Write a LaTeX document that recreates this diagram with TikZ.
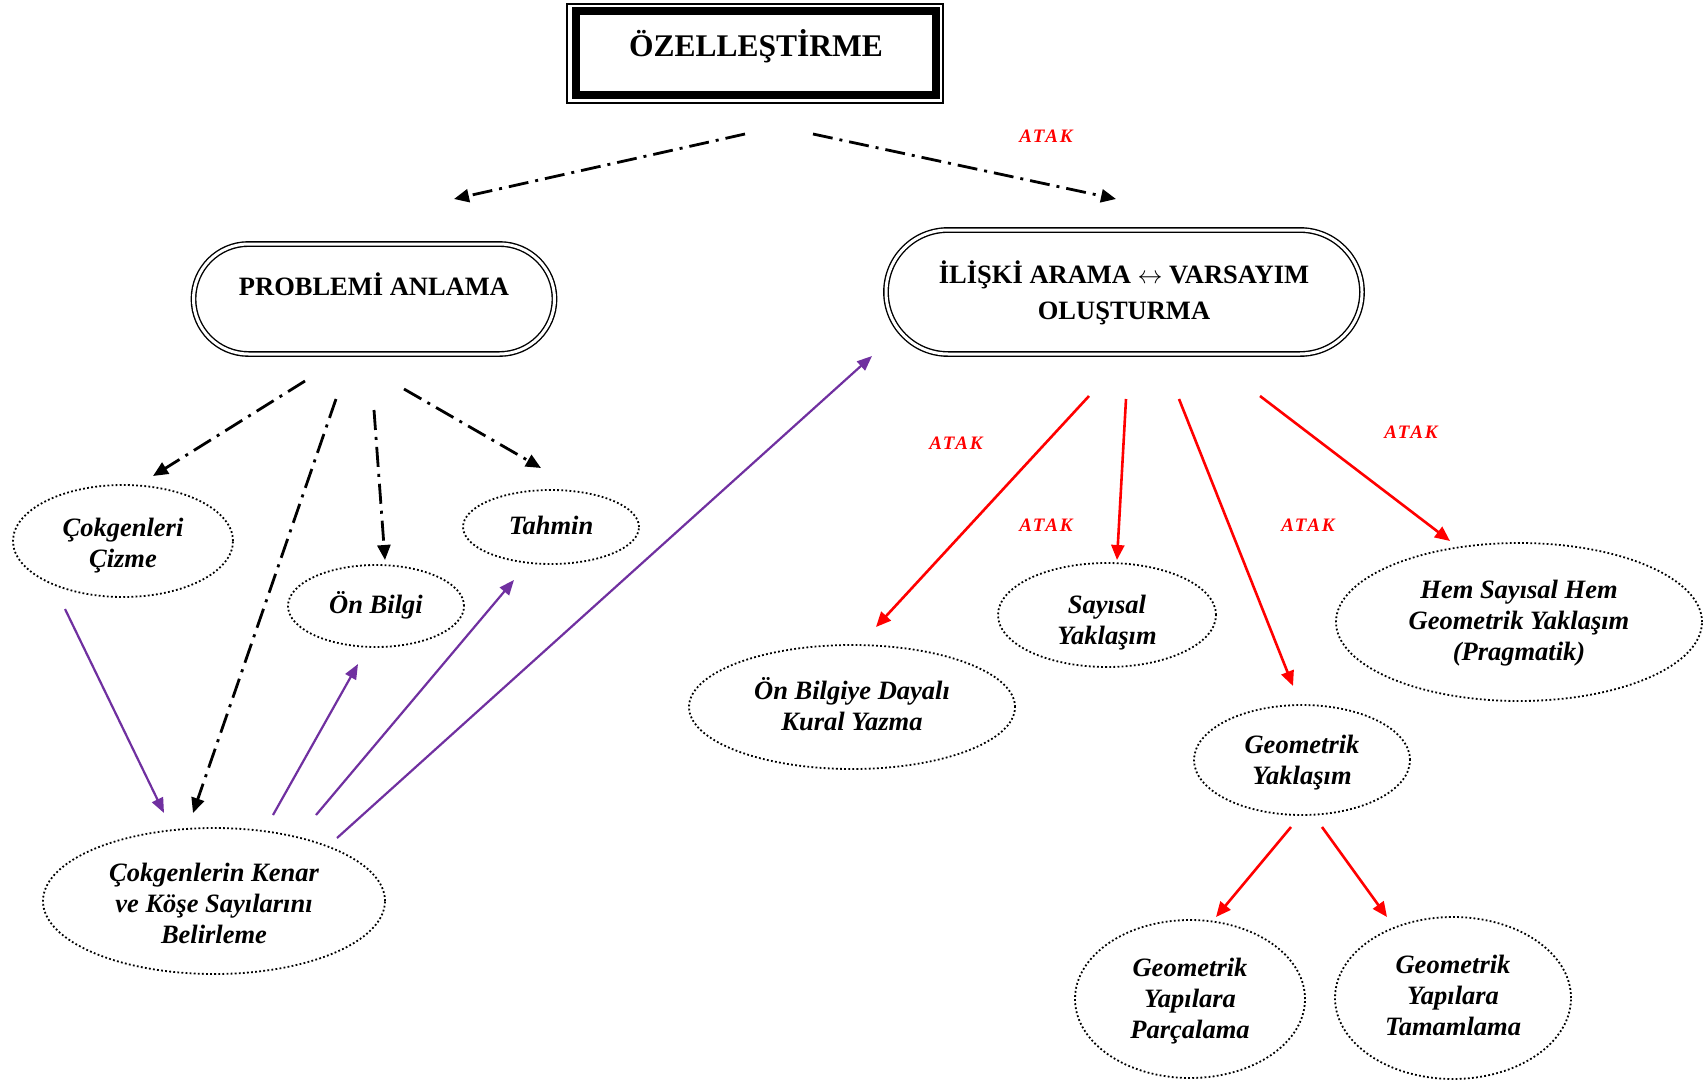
\documentclass[tikz,border=0pt]{standalone}
\usepackage{fontspec}
\setmainfont{Liberation Serif}
\newfontfamily\atakfont[LetterSpace=10]{Liberation Serif}
\usetikzlibrary{arrows.meta,shapes.geometric,shapes.misc}

\definecolor{linkpurple}{HTML}{7030A0}
\definecolor{atakred}{HTML}{FF0000}

\begin{document}
\begin{tikzpicture}[x=1pt,y=-1pt,
  every node/.style={inner sep=0pt, outer sep=0pt},
  idea/.style={ellipse, draw, line width=1.8pt, dash pattern=on 1.8pt off 2.3pt},
  ideatext/.style={align=center, font=\fontsize{26.5}{31}\selectfont\bfseries\itshape},
  stage/.style={rounded rectangle, draw, line width=1.4pt, double, double distance=3pt},
  heading/.style={align=center, font=\fontsize{26.5}{36}\selectfont\bfseries},
  dashdot/.style={line width=2.8pt, dash pattern=on 20pt off 7pt on 3pt off 7pt,
    -{Triangle[length=15pt,width=13pt]}},
  purplearrow/.style={linkpurple, line width=2.2pt, -{Triangle[length=15pt,width=12pt]}},
  redarrow/.style={atakred, line width=2.6pt, -{Triangle[length=15pt,width=13pt]}},
  ataklabel/.style={text=atakred, font=\fontsize{19}{19}\selectfont\atakfont\bfseries\itshape}
]
\useasboundingbox[fill=white] (0,0) rectangle (1704,1081);

% --- title frame: thin outer rule and heavy inner rule
\node[draw, line width=1.5pt, minimum width=376pt, minimum height=99pt] (titleframe) at (755,53.5) {};
\node[draw, line width=8pt, minimum width=359.5pt, minimum height=83.5pt] (title) at (755.75,53.25) {};
\node[font=\fontsize{31.5}{36}\selectfont\bfseries] (titletext) at (756,46) {ÖZELLEŞTİRME};

% --- two main stages
\node[stage, minimum width=361pt, minimum height=110pt] (prob) at (374,299) {};
\node[heading] (probtext) at (374,283.8) {PROBLEMİ ANLAMA};
\node[stage, minimum width=476pt, minimum height=124pt] (rel) at (1124,292) {};
\node[heading] (reltext) at (1124,293) {İLİŞKİ ARAMA $\leftrightarrow$ VARSAYIM\\OLUŞTURMA};

% --- understanding the problem
\node[idea, minimum width=220pt, minimum height=112pt] (cizme) at (123,541) {};
\node[ideatext] (cizme-text) at (123,545.3) {Çokgenleri\\Çizme};
\node[idea, minimum width=176pt, minimum height=82pt] (onbilgi) at (376,606) {};
\node[ideatext] (onbilgi-text) at (376,604.9) {Ön Bilgi};
\node[idea, minimum width=176pt, minimum height=74pt] (tahmin) at (551,527) {};
\node[ideatext] (tahmin-text) at (551,525.9) {Tahmin};
\node[idea, minimum width=342pt, minimum height=146pt] (kenar) at (214,901) {};
\node[ideatext] (kenar-text) at (214,903.2) {Çokgenlerin Kenar\\ve Köşe Sayılarını\\Belirleme};

% --- approaches
\node[idea, minimum width=326pt, minimum height=124pt] (kural) at (852,707) {};
\node[ideatext] (kural-text) at (852,703.7) {Ön Bilgiye Dayalı\\Kural Yazma};
\node[idea, minimum width=218pt, minimum height=104pt] (sayisal) at (1107,615) {};
\node[ideatext] (sayisal-text) at (1107,622.6) {Sayısal\\Yaklaşım};
\node[idea, minimum width=366pt, minimum height=158pt] (hem) at (1519,622) {};
\node[ideatext] (hem-text) at (1519,623.6) {Hem Sayısal Hem\\Geometrik Yaklaşım\\(Pragmatik)};
\node[idea, minimum width=216pt, minimum height=110pt] (geo) at (1302,760) {};
\node[ideatext] (geo-text) at (1302,762.7) {Geometrik\\Yaklaşım};
\node[idea, minimum width=230pt, minimum height=158pt] (parca) at (1190,999) {};
\node[ideatext] (parca-text) at (1190,1001.2) {Geometrik\\Yapılara\\Parçalama};
\node[idea, minimum width=236pt, minimum height=162pt] (tamam) at (1453,998) {};
\node[ideatext] (tamam-text) at (1453,995.8) {Geometrik\\Yapılara\\Tamamlama};

% --- ATAK marks
\node[ataklabel] (atak1) at (1046,136) {ATAK};
\node[ataklabel] (atak2) at (956,443) {ATAK};
\node[ataklabel] (atak3) at (1046,525) {ATAK};
\node[ataklabel] (atak4) at (1308,525) {ATAK};
\node[ataklabel] (atak5) at (1411,432) {ATAK};

% --- connector end points
\coordinate (t-l) at (745,134);   \coordinate (p-in) at (454,199);
\coordinate (t-r) at (813,134);   \coordinate (r-in) at (1116,199);
\coordinate (p-a) at (305,381);   \coordinate (cizme-in) at (153,476);
\coordinate (p-b) at (336,399);   \coordinate (kenar-in1) at (193,813);
\coordinate (p-c) at (374,410);   \coordinate (onbilgi-in) at (385,560);
\coordinate (p-d) at (404,389);   \coordinate (tahmin-in) at (541,468);

\coordinate (cizme-out) at (65,609);  \coordinate (kenar-in2) at (164,813);
\coordinate (kenar-a) at (273,815);   \coordinate (onbilgi-up) at (358,664);
\coordinate (kenar-b) at (316,815);   \coordinate (tahmin-up) at (514,580);
\coordinate (kenar-c) at (337,838);   \coordinate (rel-up) at (872,356);

\coordinate (r-a) at (1089,396);  \coordinate (kural-in) at (876,627);
\coordinate (r-b) at (1126,399);  \coordinate (sayisal-in) at (1117,560);
\coordinate (r-c) at (1179,399);  \coordinate (geo-in) at (1293,686);
\coordinate (r-d) at (1260,396);  \coordinate (hem-in) at (1450,541);
\coordinate (g-a) at (1291,827);  \coordinate (parca-in) at (1216,917);
\coordinate (g-b) at (1322,827);  \coordinate (tamam-in) at (1387,917);

% --- dash-dot links
\draw[dashdot] (t-l) -- (p-in);
\draw[dashdot] (t-r) -- (r-in);
\draw[dashdot] (p-a) -- (cizme-in);
\draw[dashdot] (p-b) -- (kenar-in1);
\draw[dashdot] (p-c) -- (onbilgi-in);
\draw[dashdot] (p-d) -- (tahmin-in);

% --- purple links
\draw[purplearrow] (cizme-out) -- (kenar-in2);
\draw[purplearrow] (kenar-a) -- (onbilgi-up);
\draw[purplearrow] (kenar-b) -- (tahmin-up);
\draw[purplearrow] (kenar-c) -- (rel-up);

% --- red links
\draw[redarrow] (r-a) -- (kural-in);
\draw[redarrow] (r-b) -- (sayisal-in);
\draw[redarrow] (r-c) -- (geo-in);
\draw[redarrow] (r-d) -- (hem-in);
\draw[redarrow] (g-a) -- (parca-in);
\draw[redarrow] (g-b) -- (tamam-in);
\end{tikzpicture}
\end{document}
